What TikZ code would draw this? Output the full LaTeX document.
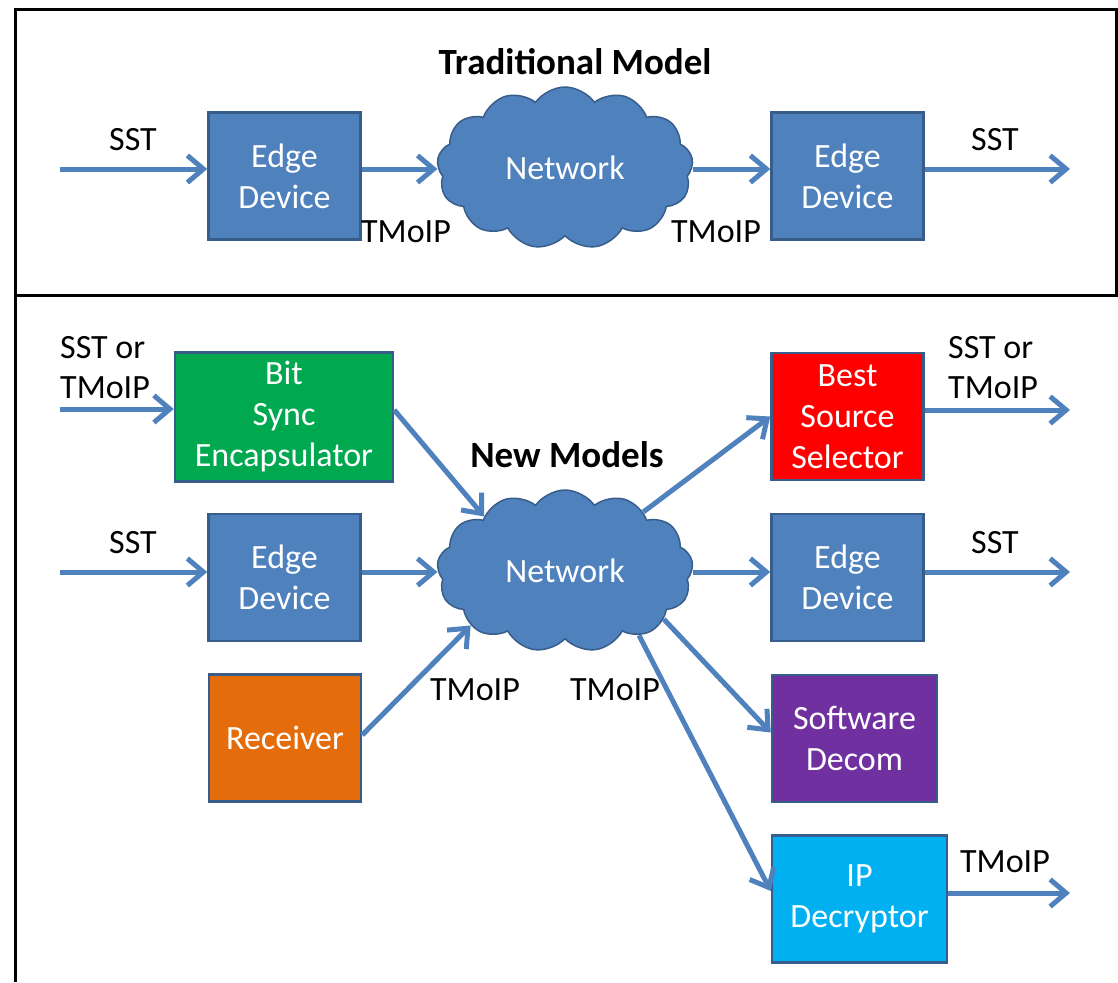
\documentclass[tikz,border=0pt]{standalone}
\usepackage{fontspec}
\setmainfont{Carlito}
\usetikzlibrary{positioning,shapes.symbols,arrows.meta,calc}
\definecolor{boxblue}{HTML}{4F81BD}
\definecolor{boxline}{HTML}{385D8A}
\definecolor{bitgreen}{HTML}{00A850}
\definecolor{bestred}{HTML}{FF0000}
\definecolor{rcvorange}{HTML}{E46C0A}
\definecolor{swpurple}{HTML}{7030A0}
\definecolor{ipblue}{HTML}{00B0F0}

\begin{document}
\begin{tikzpicture}[x=1pt,y=-1pt,
box/.style={draw=boxline,line width=2.5pt,fill=#1,text=white,align=center,
minimum width=152pt,minimum height=127pt,inner sep=1pt,
font=\fontsize{34}{41}\selectfont},
box/.default=boxblue,
net/.style={cloud,cloud puffs=13,cloud puff arc=110,cloud ignores aspect,draw=boxline,
line width=1.5pt,fill=boxblue,text=white,minimum width=256pt,minimum height=162pt,
font=\fontsize{34}{41}\selectfont},
flow/.style={draw=boxblue,line width=5pt,-{Straight Barb[length=16pt,width=27pt]}},
lbl/.style={inner sep=0pt,align=left,font=\fontsize{34}{40}\selectfont},
ttl/.style={inner sep=0pt,font=\fontsize{37}{40}\selectfont\bfseries}]
\useasboundingbox (0,0) rectangle (1118,982);
% frame
\draw[line width=3pt] (15,982) -- (15,10) -- (1116,10) -- (1116,295);
\draw[line width=3pt] (15,295) -- (1118,295);

% traditional model
\node[ttl] (trad) at (575,62) {Traditional Model};
\node[box] (ed1) at (284.5,176) {Edge\\Device};
\node[net] (net1) at (565,168) {Network};
\node[box] (ed2) at (847.5,176) {Edge\\Device};
\coordinate (in1) at (60,169);
\coordinate (out1) at (1070,169);
\draw[flow] (in1) -- (in1 -| ed1.west);
\draw[flow] (in1 -| ed1.east) -- (in1 -| net1.west);
\draw[flow] (in1 -| net1.east) -- (in1 -| ed2.west);
\draw[flow] (out1 -| ed2.east) -- (out1);
\node[lbl] (sst1) at (133,140) {SST};
\node[lbl] (sst2) at (995,140) {SST};
\node[lbl] (tm1) at (406,232) {TMoIP};
\node[lbl] (tm2) at (716,232) {TMoIP};

% new models
\node[ttl] (newm) at (567,455) {New Models};
\node[box=bitgreen,minimum width=218pt,minimum height=129pt] (bit) at (284,417)
{Bit\\Sync\\Encapsulator};
\node[box] (ed3) at (284.5,577.5) {Edge\\Device};
\node[box=rcvorange] (rcv) at (285,738) {Receiver};
\node[net] (net2) at (565,571) {Network};
\node[box=bestred] (bss) at (847.5,416.5) {Best\\Source\\Selector};
\node[box] (ed4) at (847.5,577.5) {Edge\\Device};
\node[box=swpurple,minimum width=165pt] (swd) at (854.5,738.5) {Software\\Decom};
\node[box=ipblue,minimum width=175pt] (ipd) at (859.5,899) {IP\\Decryptor};
\coordinate (in2) at (60,409);
\coordinate (in3) at (60,572);
\coordinate (out2) at (1070,410);
\coordinate (out3) at (1070,572);
\coordinate (out4) at (1070,893);
\draw[flow] (in2) -- (in2 -| bit.west);
\draw[flow] (in3) -- (in3 -| ed3.west);
\draw[flow] ([yshift=7pt]bit.east) -- (net2.146);
\draw[flow] (in3 -| ed3.east) -- (in3 -| net2.west);
\draw[flow] ([yshift=3pt]rcv.east) -- (net2.210);
\draw[flow] (net2.37) -- (bss.west);
\draw[flow] (in3 -| net2.east) -- (in3 -| ed4.west);
\draw[flow] (net2.-26) -- ([yshift=6pt]swd.west);
\draw[flow] (net2.-41) -- ([yshift=8pt]ipd.west);
\draw[flow] (out2 -| bss.east) -- (out2);
\draw[flow] (out3 -| ed4.east) -- (out3);
\draw[flow] (out4 -| ipd.east) -- (out4);
\node[lbl,anchor=west] (sstor1) at (60,368) {SST or\\TMoIP};
\node[lbl,anchor=west] (sstor2) at (948,368) {SST or\\TMoIP};
\node[lbl] (sst3) at (133,543) {SST};
\node[lbl] (sst4) at (995,543) {SST};
\node[lbl] (tm3) at (475,690) {TMoIP};
\node[lbl] (tm4) at (615,690) {TMoIP};
\node[lbl] (tm5) at (1005,862) {TMoIP};
\end{tikzpicture}
\end{document}
